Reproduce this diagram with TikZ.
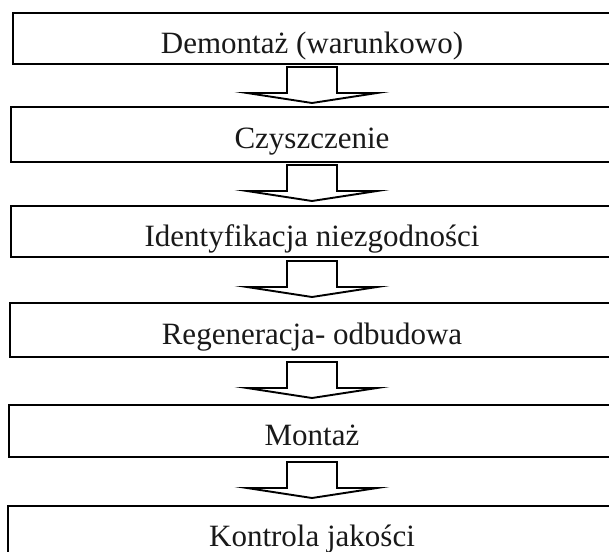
\documentclass[tikz,border=0pt]{standalone}
\usepackage{fontspec}
\setmainfont{Liberation Serif}
\begin{document}
\begin{tikzpicture}[x=1pt,y=-1pt,
  stepbox/.style={draw=black, line width=2.3pt, rectangle, inner sep=0pt, anchor=north west},
  lbl/.style={anchor=base, inner sep=0pt, font=\fontsize{31}{36}\selectfont, text=black!90},
  barrow/.pic={\draw[line width=1.9pt, line join=miter, miter limit=20]
     (-25,0) -- (25,0) -- (25,26) -- (65,26) -- (0,36) -- (-65,26) -- (-25,26) -- cycle;}]
\useasboundingbox (0,0) rectangle (609,551);
\fill[white] (0,0) rectangle (609,551);
% boxes
\node[stepbox, minimum width=598pt, minimum height=51pt] (b1) at (12,12) {};
\node[stepbox, minimum width=600pt, minimum height=55pt] (b2) at (10,106) {};
\node[stepbox, minimum width=600pt, minimum height=51pt] (b3) at (10,205) {};
\node[stepbox, minimum width=601pt, minimum height=54pt] (b4) at (9,302) {};
\node[stepbox, minimum width=602pt, minimum height=52pt] (b5) at (8,404) {};
\node[stepbox, minimum width=603pt, minimum height=60pt] (b6) at (7,505) {};
% labels
\node[lbl] (t1) at (312,53) {Demontaż (warunkowo)};
\node[lbl] (t2) at (312,148) {Czyszczenie};
\node[lbl] (t3) at (312,246) {Identyfikacja niezgodności};
\node[lbl] (t4) at (312,344) {Regeneracja- odbudowa};
\node[lbl] (t5) at (312,445) {Montaż};
\node[lbl] (t6) at (312,546) {Kontrola jakości};
% arrows
\pic at (312,67) {barrow};
\pic at (312,165) {barrow};
\pic at (312,261) {barrow};
\pic at (312,362) {barrow};
\pic at (312,462) {barrow};
\end{tikzpicture}
\end{document}
